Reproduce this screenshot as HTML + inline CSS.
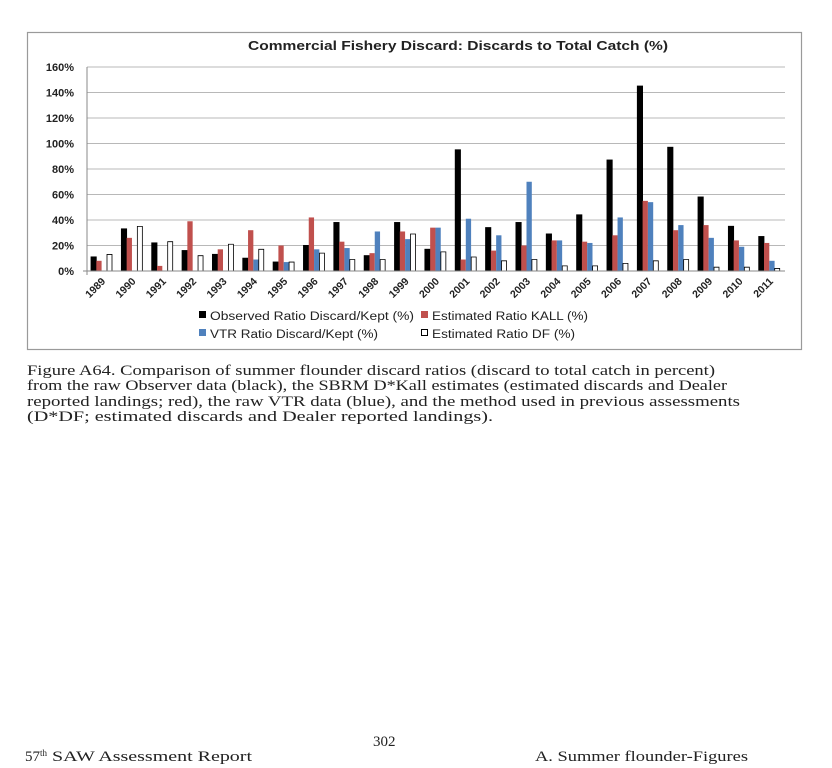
<!DOCTYPE html>
<html><head><meta charset="utf-8"><style>
html,body{margin:0;padding:0;background:#fff;width:832px;height:768px;overflow:hidden}
svg{position:absolute;left:0;top:0}
.t{font-family:"Liberation Sans",sans-serif;font-weight:bold;font-size:11px;fill:#222}
.l{font-family:"Liberation Sans",sans-serif;font-size:11.5px;fill:#222}
.s{font-family:"Liberation Serif",serif;font-size:15px;fill:#222}
</style></head><body>
<svg width="832" height="768" viewBox="0 0 832 768">
<rect x="27.5" y="32.5" width="774" height="317" fill="#fff" stroke="#9a9a9a" stroke-width="1.2"/>
<text x="248" y="50" class="t" style="font-size:13px" textLength="420" lengthAdjust="spacingAndGlyphs">Commercial Fishery Discard: Discards to Total Catch (%)</text>
<g stroke="#b8b8b8" stroke-width="1">
<line x1="87" x2="785" y1="245.5" y2="245.5"/><line x1="87" x2="785" y1="220" y2="220"/>
<line x1="87" x2="785" y1="194.5" y2="194.5"/><line x1="87" x2="785" y1="169" y2="169"/>
<line x1="87" x2="785" y1="143.5" y2="143.5"/><line x1="87" x2="785" y1="118" y2="118"/>
<line x1="87" x2="785" y1="92.5" y2="92.5"/><line x1="87" x2="785" y1="67" y2="67"/>
</g>
<g class="t" text-anchor="end">
<text x="74" y="275">0%</text><text x="74" y="249.5">20%</text><text x="74" y="224">40%</text>
<text x="74" y="198.5">60%</text><text x="74" y="173">80%</text><text x="74" y="147.5">100%</text>
<text x="74" y="122">120%</text><text x="74" y="96.5">140%</text><text x="74" y="71">160%</text>
</g>
<g stroke="#000" stroke-width="0.8">
<g transform="translate(87,271) scale(1,-1.275)"><rect x="4" width="5.3" height="11" fill="#000"/><rect x="9.3" width="5.3" height="8" fill="#c0504d" stroke="none"/><rect x="20" width="5" height="13" fill="#fff" vector-effect="non-scaling-stroke"/></g>
<g transform="translate(117.35,271) scale(1,-1.275)"><rect x="4" width="5.3" height="33" fill="#000"/><rect x="9.3" width="5.3" height="26" fill="#c0504d" stroke="none"/><rect x="20" width="5" height="35" fill="#fff" vector-effect="non-scaling-stroke"/></g>
<g transform="translate(147.7,271) scale(1,-1.275)"><rect x="4" width="5.3" height="22" fill="#000"/><rect x="9.3" width="5.3" height="4" fill="#c0504d" stroke="none"/><rect x="20" width="5" height="23" fill="#fff" vector-effect="non-scaling-stroke"/></g>
<g transform="translate(178.05,271) scale(1,-1.275)"><rect x="4" width="5.3" height="16" fill="#000"/><rect x="9.3" width="5.3" height="39" fill="#c0504d" stroke="none"/><rect x="20" width="5" height="12" fill="#fff" vector-effect="non-scaling-stroke"/></g>
<g transform="translate(208.4,271) scale(1,-1.275)"><rect x="4" width="5.3" height="13" fill="#000"/><rect x="9.3" width="5.3" height="17" fill="#c0504d" stroke="none"/><rect x="20" width="5" height="21" fill="#fff" vector-effect="non-scaling-stroke"/></g>
<g transform="translate(238.75,271) scale(1,-1.275)"><rect x="4" width="5.3" height="10" fill="#000"/><rect x="9.3" width="5.3" height="32" fill="#c0504d" stroke="none"/><rect x="14.6" width="5.3" height="9" fill="#4f81bd" stroke="none"/><rect x="20" width="5" height="17" fill="#fff" vector-effect="non-scaling-stroke"/></g>
<g transform="translate(269.1,271) scale(1,-1.275)"><rect x="4" width="5.3" height="7" fill="#000"/><rect x="9.3" width="5.3" height="20" fill="#c0504d" stroke="none"/><rect x="14.6" width="5.3" height="7" fill="#4f81bd" stroke="none"/><rect x="20" width="5" height="7" fill="#fff" vector-effect="non-scaling-stroke"/></g>
<g transform="translate(299.45,271) scale(1,-1.275)"><rect x="4" width="5.3" height="20" fill="#000"/><rect x="9.3" width="5.3" height="42" fill="#c0504d" stroke="none"/><rect x="14.6" width="5.3" height="17" fill="#4f81bd" stroke="none"/><rect x="20" width="5" height="14" fill="#fff" vector-effect="non-scaling-stroke"/></g>
<g transform="translate(329.8,271) scale(1,-1.275)"><rect x="4" width="5.3" height="38" fill="#000"/><rect x="9.3" width="5.3" height="23" fill="#c0504d" stroke="none"/><rect x="14.6" width="5.3" height="18" fill="#4f81bd" stroke="none"/><rect x="20" width="5" height="9" fill="#fff" vector-effect="non-scaling-stroke"/></g>
<g transform="translate(360.15,271) scale(1,-1.275)"><rect x="4" width="5.3" height="12" fill="#000"/><rect x="9.3" width="5.3" height="14" fill="#c0504d" stroke="none"/><rect x="14.6" width="5.3" height="31" fill="#4f81bd" stroke="none"/><rect x="20" width="5" height="9" fill="#fff" vector-effect="non-scaling-stroke"/></g>
<g transform="translate(390.5,271) scale(1,-1.275)"><rect x="4" width="5.3" height="38" fill="#000"/><rect x="9.3" width="5.3" height="31" fill="#c0504d" stroke="none"/><rect x="14.6" width="5.3" height="25" fill="#4f81bd" stroke="none"/><rect x="20" width="5" height="29" fill="#fff" vector-effect="non-scaling-stroke"/></g>
<g transform="translate(420.85,271) scale(1,-1.275)"><rect x="4" width="5.3" height="17" fill="#000"/><rect x="9.3" width="5.3" height="34" fill="#c0504d" stroke="none"/><rect x="14.6" width="5.3" height="34" fill="#4f81bd" stroke="none"/><rect x="20" width="5" height="15" fill="#fff" vector-effect="non-scaling-stroke"/></g>
<g transform="translate(451.2,271) scale(1,-1.275)"><rect x="4" width="5.3" height="95" fill="#000"/><rect x="9.3" width="5.3" height="9" fill="#c0504d" stroke="none"/><rect x="14.6" width="5.3" height="41" fill="#4f81bd" stroke="none"/><rect x="20" width="5" height="11" fill="#fff" vector-effect="non-scaling-stroke"/></g>
<g transform="translate(481.55,271) scale(1,-1.275)"><rect x="4" width="5.3" height="34" fill="#000"/><rect x="9.3" width="5.3" height="16" fill="#c0504d" stroke="none"/><rect x="14.6" width="5.3" height="28" fill="#4f81bd" stroke="none"/><rect x="20" width="5" height="8" fill="#fff" vector-effect="non-scaling-stroke"/></g>
<g transform="translate(511.9,271) scale(1,-1.275)"><rect x="4" width="5.3" height="38" fill="#000"/><rect x="9.3" width="5.3" height="20" fill="#c0504d" stroke="none"/><rect x="14.6" width="5.3" height="70" fill="#4f81bd" stroke="none"/><rect x="20" width="5" height="9" fill="#fff" vector-effect="non-scaling-stroke"/></g>
<g transform="translate(542.25,271) scale(1,-1.275)"><rect x="4" width="5.3" height="29" fill="#000"/><rect x="9.3" width="5.3" height="24" fill="#c0504d" stroke="none"/><rect x="14.6" width="5.3" height="24" fill="#4f81bd" stroke="none"/><rect x="20" width="5" height="4" fill="#fff" vector-effect="non-scaling-stroke"/></g>
<g transform="translate(572.6,271) scale(1,-1.275)"><rect x="4" width="5.3" height="44" fill="#000"/><rect x="9.3" width="5.3" height="23" fill="#c0504d" stroke="none"/><rect x="14.6" width="5.3" height="22" fill="#4f81bd" stroke="none"/><rect x="20" width="5" height="4" fill="#fff" vector-effect="non-scaling-stroke"/></g>
<g transform="translate(602.95,271) scale(1,-1.275)"><rect x="4" width="5.3" height="87" fill="#000"/><rect x="9.3" width="5.3" height="28" fill="#c0504d" stroke="none"/><rect x="14.6" width="5.3" height="42" fill="#4f81bd" stroke="none"/><rect x="20" width="5" height="6" fill="#fff" vector-effect="non-scaling-stroke"/></g>
<g transform="translate(633.3,271) scale(1,-1.275)"><rect x="4" width="5.3" height="145" fill="#000"/><rect x="9.3" width="5.3" height="55" fill="#c0504d" stroke="none"/><rect x="14.6" width="5.3" height="54" fill="#4f81bd" stroke="none"/><rect x="20" width="5" height="8" fill="#fff" vector-effect="non-scaling-stroke"/></g>
<g transform="translate(663.65,271) scale(1,-1.275)"><rect x="4" width="5.3" height="97" fill="#000"/><rect x="9.3" width="5.3" height="32" fill="#c0504d" stroke="none"/><rect x="14.6" width="5.3" height="36" fill="#4f81bd" stroke="none"/><rect x="20" width="5" height="9" fill="#fff" vector-effect="non-scaling-stroke"/></g>
<g transform="translate(694,271) scale(1,-1.275)"><rect x="4" width="5.3" height="58" fill="#000"/><rect x="9.3" width="5.3" height="36" fill="#c0504d" stroke="none"/><rect x="14.6" width="5.3" height="26" fill="#4f81bd" stroke="none"/><rect x="20" width="5" height="3" fill="#fff" vector-effect="non-scaling-stroke"/></g>
<g transform="translate(724.35,271) scale(1,-1.275)"><rect x="4" width="5.3" height="35" fill="#000"/><rect x="9.3" width="5.3" height="24" fill="#c0504d" stroke="none"/><rect x="14.6" width="5.3" height="19" fill="#4f81bd" stroke="none"/><rect x="20" width="5" height="3" fill="#fff" vector-effect="non-scaling-stroke"/></g>
<g transform="translate(754.7,271) scale(1,-1.275)"><rect x="4" width="5.3" height="27" fill="#000"/><rect x="9.3" width="5.3" height="22" fill="#c0504d" stroke="none"/><rect x="14.6" width="5.3" height="8" fill="#4f81bd" stroke="none"/><rect x="20" width="5" height="2" fill="#fff" vector-effect="non-scaling-stroke"/></g>
</g>
<g stroke="#888" stroke-width="1">
<line x1="87" x2="87" y1="67" y2="275"/>
<line x1="83" x2="785" y1="271" y2="271"/>
</g>
<g class="t" text-anchor="end" style="font-size:10.5px">
<text transform="translate(106,282) rotate(-45)">1989</text>
<text transform="translate(136.35,282) rotate(-45)">1990</text>
<text transform="translate(166.7,282) rotate(-45)">1991</text>
<text transform="translate(197.05,282) rotate(-45)">1992</text>
<text transform="translate(227.4,282) rotate(-45)">1993</text>
<text transform="translate(257.75,282) rotate(-45)">1994</text>
<text transform="translate(288.1,282) rotate(-45)">1995</text>
<text transform="translate(318.45,282) rotate(-45)">1996</text>
<text transform="translate(348.8,282) rotate(-45)">1997</text>
<text transform="translate(379.15,282) rotate(-45)">1998</text>
<text transform="translate(409.5,282) rotate(-45)">1999</text>
<text transform="translate(439.85,282) rotate(-45)">2000</text>
<text transform="translate(470.2,282) rotate(-45)">2001</text>
<text transform="translate(500.55,282) rotate(-45)">2002</text>
<text transform="translate(530.9,282) rotate(-45)">2003</text>
<text transform="translate(561.25,282) rotate(-45)">2004</text>
<text transform="translate(591.6,282) rotate(-45)">2005</text>
<text transform="translate(621.95,282) rotate(-45)">2006</text>
<text transform="translate(652.3,282) rotate(-45)">2007</text>
<text transform="translate(682.65,282) rotate(-45)">2008</text>
<text transform="translate(713,282) rotate(-45)">2009</text>
<text transform="translate(743.35,282) rotate(-45)">2010</text>
<text transform="translate(773.7,282) rotate(-45)">2011</text>
</g>
<rect x="199" y="311" width="7" height="7" fill="#000"/>
<text x="210" y="320" class="l" textLength="204" lengthAdjust="spacingAndGlyphs">Observed Ratio Discard/Kept (%)</text>
<rect x="421" y="311" width="7" height="7" fill="#c0504d"/>
<text x="432" y="320" class="l" textLength="156" lengthAdjust="spacingAndGlyphs">Estimated Ratio KALL (%)</text>
<rect x="199" y="329" width="7" height="7" fill="#4f81bd"/>
<text x="210" y="338" class="l" textLength="168" lengthAdjust="spacingAndGlyphs">VTR Ratio Discard/Kept (%)</text>
<rect x="421.5" y="329.5" width="6" height="6" fill="#fff" stroke="#000"/>
<text x="432" y="338" class="l" textLength="143" lengthAdjust="spacingAndGlyphs">Estimated Ratio DF (%)</text>
<g class="s">
<text x="27" y="375" textLength="688" lengthAdjust="spacingAndGlyphs">Figure A64. Comparison of summer flounder discard ratios (discard to total catch in percent)</text>
<text x="27" y="390" textLength="700" lengthAdjust="spacingAndGlyphs">from the raw Observer data (black), the SBRM D*Kall estimates (estimated discards and Dealer</text>
<text x="27" y="406" textLength="713" lengthAdjust="spacingAndGlyphs">reported landings; red), the raw VTR data (blue), and the method used in previous assessments</text>
<text x="27" y="421" textLength="466" lengthAdjust="spacingAndGlyphs">(D*DF; estimated discards and Dealer reported landings).</text>
<text x="373" y="746">302</text>
<text x="25" y="761">57<tspan dy="-5" style="font-size:9px">th</tspan><tspan dy="5" textLength="205" lengthAdjust="spacingAndGlyphs"> SAW Assessment Report</tspan></text>
<text x="535" y="761" textLength="213" lengthAdjust="spacingAndGlyphs">A. Summer flounder-Figures</text>
</g>
</svg>
</body></html>
